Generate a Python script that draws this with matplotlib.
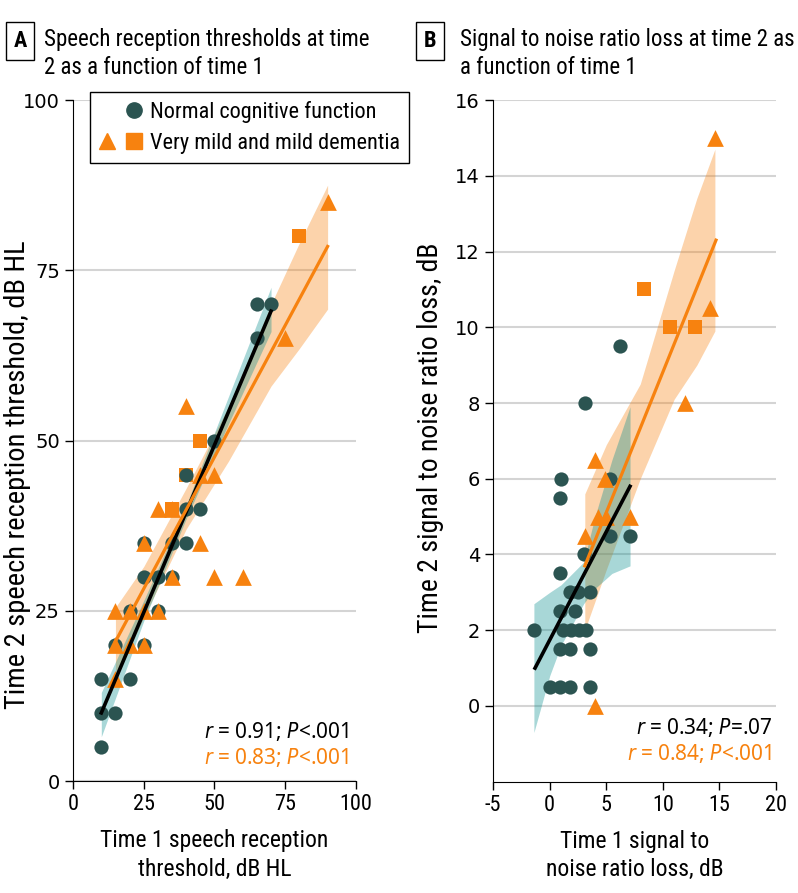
import matplotlib
matplotlib.use('Agg')
import matplotlib.pyplot as plt
from matplotlib.legend_handler import HandlerTuple
from matplotlib.lines import Line2D

NARROW = ['Roboto Condensed', 'DejaVu Sans']
WIDE = ['DejaVu Sans']
plt.rcParams['font.family'] = NARROW
plt.rcParams['font.stretch'] = 'condensed'
plt.rcParams['axes.unicode_minus'] = False

TEAL = '#2b5451'
ORANGE = '#f7820f'

# Panel A: speech reception thresholds (dB HL)
a_norm_x = [10, 10, 15, 10, 20, 15, 25, 20, 30, 25, 30, 35, 25, 35, 40, 40, 45, 40, 50, 65, 65, 70]
a_norm_y = [5, 10, 10, 15, 15, 20, 20, 25, 25, 30, 30, 30, 35, 35, 35, 40, 40, 45, 50, 65, 70, 70]
a_tri_x = [15, 15, 20, 25, 15, 20, 25, 30, 35, 50, 60, 25, 45, 30, 35, 40, 45, 50, 75, 90]
a_tri_y = [15, 20, 20, 20, 25, 25, 25, 25, 30, 30, 30, 35, 35, 40, 40, 55, 45, 45, 65, 85]
a_sq_x = [35, 40, 45, 80]
a_sq_y = [40, 45, 50, 80]

# fitted lines and confidence bands
a_norm_fit_x = [10, 70]
a_norm_fit_y = [10, 69]
a_norm_band_x = [10, 25, 40, 55, 70]
a_norm_band_lo = [6.5, 23.5, 38.5, 52.5, 66]
a_norm_band_hi = [13, 26.5, 40.5, 56.5, 72.5]
a_dem_fit_x = [15, 90]
a_dem_fit_y = [20.5, 78.5]
a_dem_band_x = [15, 25, 40, 55, 70, 80, 90]
a_dem_band_lo = [15, 24, 37, 47, 58, 63.5, 69.3]
a_dem_band_hi = [25.5, 31.5, 43, 55, 70, 79, 87.5]

# Panel B: signal to noise ratio loss (dB)
b_norm_x = [-1.4, 0.0, 0.9, 1.8, 3.6, 0.9, 1.8, 3.6, 1.2, 1.9, 2.6, 3.2, 0.9, 2.2,
            1.8, 2.5, 3.6, 0.9, 3.0, 5.3, 7.1, 0.9, 1.0, 5.3, 3.1, 6.2]
b_norm_y = [2, 0.5, 0.5, 0.5, 0.5, 1.5, 1.5, 1.5, 2, 2, 2, 2, 2.5, 2.5,
            3, 3, 3, 3.5, 4, 4.5, 4.5, 5.5, 6, 6, 8, 9.5]
b_tri_x = [4.0, 3.1, 4.3, 5.0, 7.1, 4.9, 4.0, 12.0, 14.2, 14.6]
b_tri_y = [0, 4.5, 5, 5, 5, 6, 6.5, 8, 10.5, 15]
b_sq_x = [8.3, 10.6, 12.8]
b_sq_y = [11, 10, 10]

b_norm_fit_x = [-1.3, 7.1]
b_norm_fit_y = [1.0, 5.8]
b_norm_band_x = [-1.4, 0, 1, 3, 4, 5.5, 7.1]
b_norm_band_lo = [-0.7, 0.8, 1.6, 2.7, 3.1, 3.5, 3.7]
b_norm_band_hi = [2.7, 3.0, 3.2, 3.8, 5.0, 6.5, 7.9]
b_dem_fit_x = [3.1, 14.7]
b_dem_fit_y = [3.7, 12.3]
b_dem_band_x = [3.1, 5, 8, 11, 13, 14.6]
b_dem_band_lo = [2.0, 3.6, 6.0, 8.1, 9.0, 9.9]
b_dem_band_hi = [5.6, 6.9, 8.5, 11.5, 13.4, 14.7]


def draw_panel(ax, nx, ny, tx, ty, sx, sy, nfit, nband, dfit, dband):
    ax.fill_between(dband[0], dband[1], dband[2], color=ORANGE, alpha=0.35, lw=0, zorder=1)
    ax.fill_between(nband[0], nband[1], nband[2], color='#068e8e', alpha=0.35, lw=0, zorder=1.5)
    ax.scatter(sx, sy, marker='s', s=105, color=ORANGE, lw=0, zorder=3)
    ax.scatter(nx, ny, marker='o', s=105, color=TEAL, lw=0, zorder=3.5)
    ax.scatter(tx, ty, marker='^', s=145, color=ORANGE, lw=0, zorder=4)
    ax.plot(nfit[0], nfit[1], color='black', lw=2.6, zorder=5)
    ax.plot(dfit[0], dfit[1], color=ORANGE, lw=2.3, zorder=5)
    for s in ['top', 'right']:
        ax.spines[s].set_visible(False)
    ax.grid(axis='y', color='#d4d4d4', lw=1.5)
    ax.set_axisbelow(True)
    ax.tick_params(length=6, width=1, labelsize=16)
    for lab in ax.get_yticklabels():
        lab.set_family(WIDE)
        lab.set_stretch('normal')
        lab.set_fontsize(14)


fig = plt.figure(figsize=(7.98, 8.93), dpi=100)
axA = fig.add_axes([0.0915, 0.1254, 0.3545, 0.7626])
axB = fig.add_axes([0.618, 0.1246, 0.3544, 0.7634])

axA.set_xlim(0, 100)
axA.set_ylim(0, 100)
axA.set_xticks([0, 25, 50, 75, 100])
axA.set_yticks([0, 25, 50, 75, 100])
draw_panel(axA, a_norm_x, a_norm_y, a_tri_x, a_tri_y, a_sq_x, a_sq_y,
           (a_norm_fit_x, a_norm_fit_y), (a_norm_band_x, a_norm_band_lo, a_norm_band_hi),
           (a_dem_fit_x, a_dem_fit_y), (a_dem_band_x, a_dem_band_lo, a_dem_band_hi))
axA.set_xlabel('Time 1 speech reception\nthreshold, dB HL', fontsize=17, labelpad=10, linespacing=1.3)
axA.set_ylabel('Time 2 speech reception threshold, dB HL', fontsize=20.5)
axA.yaxis.set_label_coords(-0.15, 0.45)

axB.set_xlim(-5, 20)
axB.set_ylim(-2, 16)
axB.set_xticks([-5, 0, 5, 10, 15, 20])
axB.set_yticks([0, 2, 4, 6, 8, 10, 12, 14, 16])
draw_panel(axB, b_norm_x, b_norm_y, b_tri_x, b_tri_y, b_sq_x, b_sq_y,
           (b_norm_fit_x, b_norm_fit_y), (b_norm_band_x, b_norm_band_lo, b_norm_band_hi),
           (b_dem_fit_x, b_dem_fit_y), (b_dem_band_x, b_dem_band_lo, b_dem_band_hi))
axB.set_xlabel('Time 1 signal to\nnoise ratio loss, dB', fontsize=17, labelpad=10, linespacing=1.3)
axB.set_ylabel('Time 2 signal to noise ratio loss, dB', fontsize=20)
axB.yaxis.set_label_coords(-0.175, 0.505)

# correlation annotations
for ax, x, y, txt, col in [(axA, 0.975, 0.072, '$r$ = 0.91; $P$<.001', 'black'),
                           (axA, 0.975, 0.035, '$r$ = 0.83; $P$<.001', ORANGE),
                           (axB, 0.986, 0.079, '$r$ = 0.34; $P$=.07', 'black'),
                           (axB, 0.986, 0.041, '$r$ = 0.84; $P$<.001', ORANGE)]:
    ax.text(x, y, txt, transform=ax.transAxes, ha='right', va='center',
            fontsize=15, family=['Noto Sans', 'DejaVu Sans'], stretch='normal', color=col)

# legend
h_blank = Line2D([], [], marker='^', ls='none', color='none', markersize=12)
h_norm = Line2D([], [], marker='o', ls='none', color=TEAL, markersize=11)
h_tri = Line2D([], [], marker='^', ls='none', color=ORANGE, markersize=12)
h_sq = Line2D([], [], marker='s', ls='none', color=ORANGE, markersize=11)
leg = axA.legend([(h_blank, h_norm), (h_tri, h_sq)],
                 ['Normal cognitive function', 'Very mild and mild dementia'],
                 handler_map={tuple: HandlerTuple(ndivide=None, pad=0.4)},
                 loc='upper left', bbox_to_anchor=(0.059, 1.012), borderaxespad=0,
                 fontsize=16, frameon=True, fancybox=False, edgecolor='black', framealpha=1,
                 handlelength=2.0, handletextpad=0.3, borderpad=0.4, labelspacing=0.45)
leg.get_frame().set_linewidth(1.0)
leg.set_zorder(10)

# panel titles
fig.text(0.025, 0.954, 'A', fontsize=16, weight='bold', ha='center', va='center',
         bbox=dict(boxstyle='square,pad=0.35', fc='white', ec='black', lw=1))
fig.text(0.055, 0.940, 'Speech reception thresholds at time\n2 as a function of time 1',
         fontsize=16.5, ha='left', va='center', linespacing=1.3)
fig.text(0.539, 0.954, 'B', fontsize=16, weight='bold', ha='center', va='center',
         bbox=dict(boxstyle='square,pad=0.35', fc='white', ec='black', lw=1))
fig.text(0.577, 0.940, 'Signal to noise ratio loss at time 2 as\na function of time 1',
         fontsize=16.5, ha='left', va='center', linespacing=1.3)

fig.savefig('out.png', dpi=100)
